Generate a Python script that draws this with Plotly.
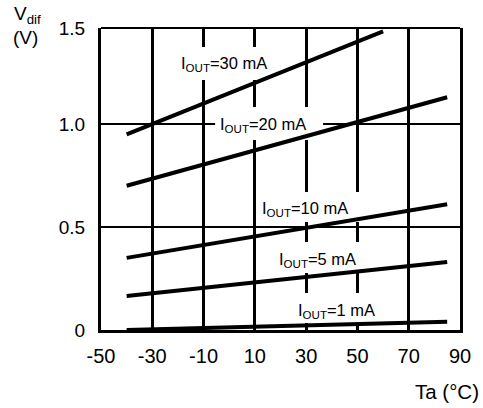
import plotly.graph_objects as go

# ---- data ----
temps_30 = [-40, 60]
vdif_30 = [0.95, 1.45]
temps = [-40, 85]
vdif_20 = [0.70, 1.13]
vdif_10 = [0.35, 0.61]
vdif_5 = [0.165, 0.33]
vdif_1 = [0.0, 0.04]

series_labels = ["30", "20", "10", "5", "1"]
label_t = [-2.2, 13.0, 29.5, 34.3, 41.9]
label_v = [1.289, 0.993, 0.587, 0.342, 0.090]
# white label backgrounds (x0, x1, y0, y1) in data units
label_boxes = [
    (-20.2, 16.1, 1.214, 1.374),
    (-5.5, 36.6, 0.922, 1.083),
    (11.1, 52.1, 0.524, 0.670),
    (17.3, 52.1, 0.277, 0.427),
    (25.0, 58.7, 0.034, 0.180),
]

x_ticks = [-50, -30, -10, 10, 30, 50, 70, 90]
x_ticktext = ["-50", "-30", "-10", "10", "30", "50", "70", "90"]
y_top = 1.466
y_ticks = [0, 0.5, 1.0, y_top]
y_ticktext = ["0", "0.5", "1.0", "1.5"]

FONT = "Liberation Sans, Arial, sans-serif"
W, H = 483, 408
L, R, T, B = 101, 20, 28, 78
PW, PH = W - L - R, H - T - B


def px(xp):
    return (xp - L) / PW


def py(yp):
    return (H - B - yp) / PH


fig = go.Figure()
for xs, ys in [(temps_30, vdif_30), (temps, vdif_20), (temps, vdif_10),
               (temps, vdif_5), (temps, vdif_1)]:
    fig.add_trace(go.Scatter(x=xs, y=ys, mode="lines",
                             line=dict(color="black", width=4),
                             showlegend=False, hoverinfo="skip"))

shapes = []
for (x0, x1, y0, y1) in label_boxes:
    shapes.append(dict(type="rect", xref="x", yref="y", x0=x0, x1=x1, y0=y0, y1=y1,
                       fillcolor="white", line=dict(width=0), layer="between"))
# thin top border
shapes.append(dict(type="line", xref="paper", yref="paper", x0=0, x1=1, y0=1, y1=1,
                   line=dict(color="black", width=2)))

annotations = []
for lab, t, v in zip(series_labels, label_t, label_v):
    annotations.append(dict(x=t, y=v, xref="x", yref="y",
                            text=f"I<sub>OUT</sub>={lab} mA", showarrow=False,
                            xanchor="center", yanchor="middle",
                            font=dict(family=FONT, size=16.5, color="black")))
annotations += [
    dict(x=px(11), y=py(15), xref="paper", yref="paper", text="V<sub>dif</sub>",
         showarrow=False, xanchor="left", yanchor="middle",
         font=dict(family=FONT, size=19, color="black")),
    dict(x=px(10), y=py(38), xref="paper", yref="paper", text="(V)",
         showarrow=False, xanchor="left", yanchor="middle",
         font=dict(family=FONT, size=19, color="black")),
    dict(x=px(416), y=py(391), xref="paper", yref="paper", text="Ta (°C)",
         showarrow=False, xanchor="left", yanchor="middle",
         font=dict(family=FONT, size=20.5, color="black")),
]

fig.update_layout(
    width=W, height=H,
    margin=dict(l=L, r=R, t=T, b=B, pad=0),
    paper_bgcolor="white", plot_bgcolor="white",
    shapes=shapes, annotations=annotations,
    xaxis=dict(range=[-50, 90], tickmode="array", tickvals=x_ticks, ticktext=x_ticktext,
               showgrid=True, gridcolor="black", gridwidth=3, zeroline=False,
               showline=True, linecolor="black", linewidth=3, mirror=False,
               ticks="outside", ticklen=6, tickcolor="rgba(0,0,0,0)",
               tickfont=dict(family=FONT, size=20, color="black")),
    yaxis=dict(range=[0, y_top], tickmode="array", tickvals=y_ticks, ticktext=y_ticktext,
               showgrid=True, gridcolor="black", gridwidth=1.5, zeroline=False,
               showline=True, linecolor="black", linewidth=3, mirror=True,
               ticks="outside", ticklen=9, tickcolor="rgba(0,0,0,0)",
               tickfont=dict(family=FONT, size=19, color="black")),
)

fig.write_html(
    "out.html",
    config={"displayModeBar": False},
    post_script="document.body.style.margin='0';document.body.style.overflow='hidden';",
)
